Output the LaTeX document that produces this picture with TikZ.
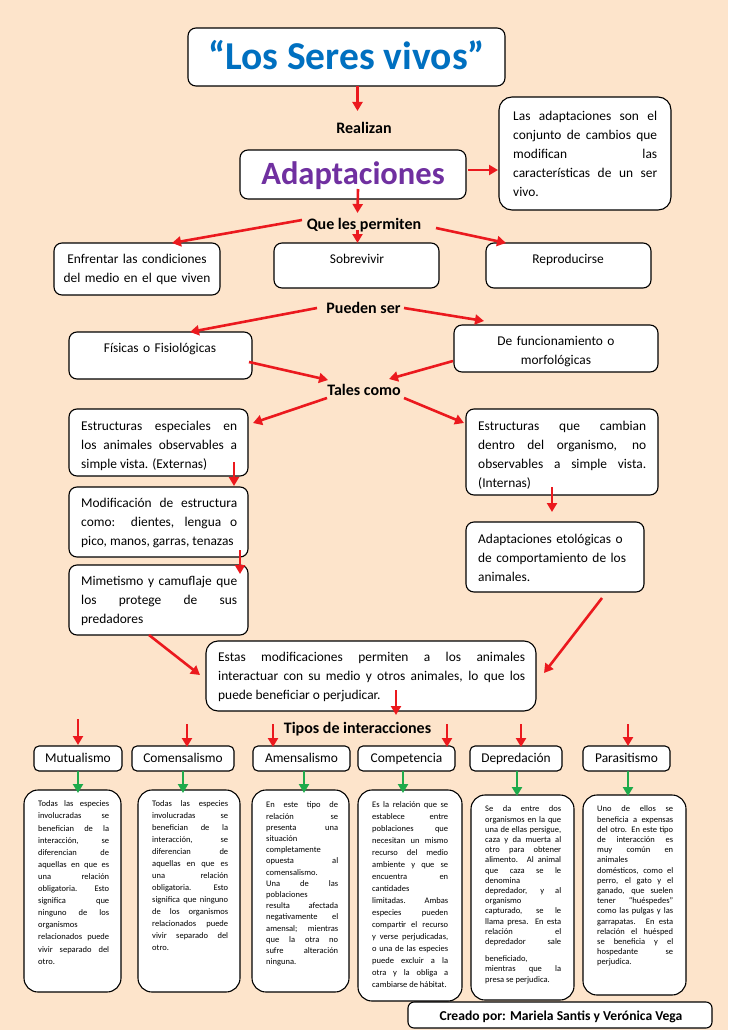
\documentclass[tikz,border=0pt]{standalone}
\usepackage{fontspec}
\setmainfont{Carlito}
\usetikzlibrary{fit,arrows.meta}
\definecolor{bgc}{RGB}{253,228,203}
\definecolor{arrred}{RGB}{235,25,30}
\definecolor{arrgreen}{RGB}{30,170,75}
\definecolor{tblue}{RGB}{0,112,192}
\definecolor{tpurple}{RGB}{112,48,160}
\setlength{\parindent}{0pt}
\tolerance=10000 \hyphenpenalty=10000 \exhyphenpenalty=10000 \hbadness=10000
\newcommand\fs[2]{\fontsize{#1}{#2}\selectfont}
\tikzset{
  bx/.style={draw=black, line width=1.1pt, fill=white, rounded corners=8pt, inner sep=0pt, outer sep=0pt},
  tb/.style={bx, rounded corners=5pt},
  db/.style={bx, rounded corners=14pt},
  lbl/.style={font=\bfseries\fs{16}{18}, inner sep=0pt, anchor=base},
  ttxt/.style={font=\fs{13.4}{16}, inner sep=0pt, anchor=base},
  ptxt/.style={inner sep=0pt, anchor=north west, align=justify, font=\fs{13.4}{19}},
  ctxt/.style={inner sep=0pt, anchor=north, align=center, text width=180pt, font=\fs{13.4}{19}},
  ra/.style={draw=arrred, line width=2.6pt, -{Triangle[length=9pt,width=10pt]}},
  ga/.style={draw=arrgreen, line width=2.6pt, -{Triangle[length=9pt,width=10pt]}},
}
\begin{document}
\begin{tikzpicture}[x=1pt,y=-1pt]
\useasboundingbox (0,0) rectangle (728,1030);
\fill[bgc] (0,0) rectangle (728,1030);

% ---------- boxes ----------
\node[bx, fit={(188,28) (505,86)}] (title) {};
\node[bx, fit={(240,150) (466,199)}] (adapt) {};
\node[bx, rounded corners=13pt, fit={(499,97) (671,210)}] (defbox) {};
\node[bx, fit={(54,243) (220,295)}] (enf) {};
\node[bx, fit={(274,243) (439,288)}] (sob) {};
\node[bx, fit={(486,243) (651,288)}] (rep) {};
\node[bx, fit={(69,332) (252,379)}] (fis) {};
\node[bx, fit={(454,325) (658,372)}] (func) {};
\node[bx, fit={(69,409) (248,476)}] (ext) {};
\node[bx, fit={(69,487) (248,557)}] (mod) {};
\node[bx, fit={(69,565) (248,635)}] (mim) {};
\node[bx, fit={(466,409) (658,495)}] (intl) {};
\node[bx, fit={(466,522) (644,592)}] (eto) {};
\node[bx, rounded corners=12pt, fit={(206,641) (536,711)}] (estas) {};

\node[tb, fit={(34,746) (122,771)}] (mut) {};
\node[tb, fit={(132,746) (234,771)}] (com) {};
\node[tb, fit={(253,746) (350,771)}] (ame) {};
\node[tb, fit={(358,746) (455,771)}] (cmp) {};
\node[tb, fit={(470,746) (562,771)}] (dep) {};
\node[tb, fit={(583,746) (670,771)}] (par) {};

\node[db, fit={(24,790) (121,992)}] (mutD) {};
\node[db, fit={(138,790) (240,992)}] (comD) {};
\node[db, fit={(252,790) (349,992)}] (ameD) {};
\node[db, fit={(358,790) (462,1001)}] (cmpD) {};
\node[db, fit={(471,795) (574,1000)}] (depD) {};
\node[db, fit={(583,795) (686,995)}] (parD) {};

\node[bx, rounded corners=6pt, fit={(408,1002) (712,1028)}] (creado) {};

% ---------- titles ----------
\node[inner sep=0pt, anchor=base, font=\bfseries\fs{39.5}{42}, text=tblue] (titleT) at (346.5,70) {“Los Seres vivos”};
\node[inner sep=0pt, anchor=base, font=\bfseries\fs{32.5}{35}, text=tpurple] (adaptT) at (353,184) {Adaptaciones};
\node[inner sep=0pt, anchor=base, font=\bfseries\fs{13.6}{16}] (creadoT) at (561,1020.5) {Creado por: Mariela Santis y Verónica Vega};

% ---------- type labels ----------
\node[ttxt] (mutL) at (78,762) {Mutualismo};
\node[ttxt] (comL) at (183,762) {Comensalismo};
\node[ttxt] (ameL) at (301.5,762) {Amensalismo};
\node[ttxt] (cmpL) at (406.5,762) {Competencia};
\node[ttxt] (depL) at (516,762) {Depredación};
\node[ttxt] (parL) at (626.5,762) {Parasitismo};

% ---------- labels ----------
\node[lbl] (realizan) at (364,133.5) {Realizan};
\node[lbl] (qlp) at (364,229) {Que les permiten};
\node[lbl] (pueden) at (363.5,313.5) {Pueden ser};
\node[lbl] (tales) at (364,395.5) {Tales como};
\node[lbl] (tipos) at (357.5,733.5) {Tipos de interacciones};

% ---------- texts in boxes ----------
\node[ptxt, text width=144pt] (defT) at (513,106.7) {\strut Las adaptaciones son el\linebreak conjunto de cambios que\linebreak modifican las\linebreak características de un ser\linebreak vivo.};
\node[ctxt] (enfT) at (137,249.7) {\strut Enfrentar las condiciones\\ del medio en el que viven};
\node[ctxt] (sobT) at (357,249.7) {\strut Sobrevivir};
\node[ctxt] (repT) at (568,249.7) {\strut Reproducirse};
\node[ctxt] (fisT) at (160,338.7) {\strut Físicas o Fisiológicas};
\node[ctxt] (funcT) at (556,331.7) {\strut De funcionamiento o\\ morfológicas};
\node[ptxt, text width=156pt] (extT) at (81,416.7) {\strut Estructuras especiales en\linebreak los animales observables a\linebreak simple vista. (Externas)};
\node[ptxt, text width=156pt] (modT) at (81,493.7) {\strut Modificación de estructura\linebreak como: dientes, lengua o\linebreak pico, manos, garras, tenazas};
\node[ptxt, text width=156pt] (mimT) at (81,571.7) {\strut Mimetismo y camuflaje que\linebreak los protege de sus\linebreak predadores};
\node[ptxt, text width=168pt] (intlT) at (478,416.7) {\strut Estructuras que cambian\linebreak dentro del organismo, no\linebreak observables a simple vista.\linebreak (Internas)};
\node[ptxt, text width=165pt, align=left] (etoT) at (478,529.7) {\strut Adaptaciones etológicas o\\ de comportamiento de los\\ animales.};
\node[ptxt, text width=307pt] (estasT) at (218,647.7) {\strut Estas modificaciones permiten a los animales\linebreak interactuar con su medio y otros animales, lo que los\linebreak puede beneficiar o perjudicar.};

% ---------- description texts ----------
\node[ptxt, text width=71pt, font=\fs{8.5}{12.1}] (mutT) at (38,798.2) {\strut Todas las especies\linebreak involucradas se\linebreak benefician de la\linebreak interacción, se\linebreak diferencian de\linebreak aquellas en que es\linebreak una relación\linebreak obligatoria. Esto\linebreak significa que\linebreak ninguno de los\linebreak organismos\linebreak relacionados puede\linebreak vivir separado del\linebreak otro.};
\node[ptxt, text width=76pt, font=\fs{8.5}{12}] (comT) at (152,798.3) {\strut Todas las especies\linebreak involucradas se\linebreak benefician de la\linebreak interacción, se\linebreak diferencian de\linebreak aquellas en que es\linebreak una relación\linebreak obligatoria. Esto\linebreak significa que ninguno\linebreak de los organismos\linebreak relacionados puede\linebreak vivir separado del\linebreak otro.};
\node[ptxt, text width=72pt, font=\fs{8.5}{11.2}] (ameT) at (266,799.9) {\strut En este tipo de\linebreak relación se\linebreak presenta una\linebreak situación\linebreak completamente\linebreak opuesta al\linebreak comensalismo.\linebreak Una de las\linebreak poblaciones\linebreak resulta afectada\linebreak negativamente el\linebreak amensal; mientras\linebreak que la otra no\linebreak sufre alteración\linebreak ninguna.};
\node[ptxt, text width=76pt, font=\fs{8.5}{12}] (cmpT) at (372,799.3) {\strut Es la relación que se\linebreak establece entre\linebreak poblaciones que\linebreak necesitan un mismo\linebreak recurso del medio\linebreak ambiente y que se\linebreak encuentra en\linebreak cantidades\linebreak limitadas. Ambas\linebreak especies pueden\linebreak compartir el recurso\linebreak y verse perjudicadas,\linebreak o una de las especies\linebreak puede excluir a la\linebreak otra y la obliga a\linebreak cambiarse de hábitat.};
\node[ptxt, text width=76pt, font=\fs{8.5}{10.2}] (depT) at (485,804.6) {\strut Se da entre dos\linebreak organismos en la que\linebreak una de ellas persigue,\linebreak caza y da muerta al\linebreak otro para obtener\linebreak alimento. Al animal\linebreak que caza se le\linebreak denomina\linebreak depredador, y al\linebreak organismo\linebreak capturado, se le\linebreak llama presa. En esta\linebreak relación el\linebreak depredador sale\vspace{7pt}\linebreak beneficiado,\linebreak mientras que la\linebreak presa se perjudica.};
\node[ptxt, text width=76pt, font=\fs{8.5}{10.2}] (parT) at (597,804.6) {\strut Uno de ellos se\linebreak beneficia a expensas\linebreak del otro. En este tipo\linebreak de interacción es\linebreak muy común en\linebreak animales\linebreak domésticos, como el\linebreak perro, el gato y el\linebreak ganado, que suelen\linebreak tener “huéspedes”\linebreak como las pulgas y las\linebreak garrapatas. En esta\linebreak relación el huésped\linebreak se beneficia y el\linebreak hospedante se\linebreak perjudica.};

% ---------- free arrow ends ----------
\coordinate (c1) at (357.5,111);
\coordinate (c3) at (357.5,213);
\coordinate (q1) at (302,220);
\coordinate (q2) at (357.5,230);
\coordinate (q3) at (436,228);
\coordinate (p1) at (317,308);
\coordinate (p2) at (404,308);
\coordinate (t1) at (328,380);
\coordinate (t2) at (389,379);
\coordinate (t3) at (327,398);
\coordinate (t4) at (404,398);
\coordinate (i0) at (396,715);
\coordinate (r1) at (78,719);
\coordinate (r2) at (187,724);
\coordinate (r3) at (273,724);
\coordinate (r4) at (447,724);
\coordinate (r5) at (521,724);
\coordinate (r6) at (628,724);

% ---------- red arrows ----------
\draw[ra] ([xshift=11pt]title.south) -- (c1);
\draw[ra] ([xshift=2pt,yshift=4.5pt]adapt.east) -- ([xshift=-1pt,yshift=-16.5pt]defbox.west);
\draw[ra] ([xshift=5pt,yshift=10pt]adapt.south) -- (c3);
\draw[ra] (q1) -- ([xshift=35pt]enf.north);
\draw[ra] (q2) -- ([xshift=1pt]sob.north);
\draw[ra] (q3) -- ([xshift=-62.5pt]rep.north);
\draw[ra] (p1) -- ([xshift=29.5pt]fis.north);
\draw[ra] (p2) -- ([xshift=-72pt,yshift=4pt]func.north);
\draw[ra] ([xshift=-3pt,yshift=-6.5pt]fis.east) -- (t1);
\draw[ra] ([xshift=-1pt,yshift=-12.5pt]func.west) -- (t2);
\draw[ra] (t3) -- ([xshift=5pt,yshift=-14pt]ext.north east);
\draw[ra] (t4) -- ([xshift=-2pt,yshift=-14pt]intl.north west);
\draw[ra] ([xshift=-14pt,yshift=14pt]ext.south east) -- ([xshift=-14pt,yshift=1pt]mod.north east);
\draw[ra] ([xshift=-8pt,yshift=7pt]mod.south east) -- ([xshift=-8pt,yshift=-9pt]mim.north east);
\draw[ra] ([xshift=-10pt,yshift=8pt]intl.south) -- ([xshift=-3pt,yshift=10pt]eto.north);
\draw[ra] ([xshift=-9.5pt]mim.south) -- ([xshift=-6pt,yshift=-34pt]estas.north west);
\draw[ra] ([xshift=47pt,yshift=-6pt]eto.south) -- ([xshift=8pt,yshift=-32pt]estas.north east);
\draw[ra] ([xshift=25pt,yshift=21pt]estas.south) -- (i0);
\draw[ra] (r1) -- ([yshift=1pt]mut.north);
\draw[ra] (r2) -- ([xshift=4pt,yshift=-1pt]com.north);
\draw[ra] (r3) -- ([xshift=-28.5pt,yshift=-1pt]ame.north);
\draw[ra] (r4) -- ([xshift=40.5pt,yshift=-1pt]cmp.north);
\draw[ra] (r5) -- ([xshift=5pt,yshift=-1pt]dep.north);
\draw[ra] (r6) -- ([xshift=1.5pt]par.north);

% ---------- green arrows ----------
\draw[ga] (mut.south) -- ([xshift=5.5pt,yshift=-3pt]mutD.north);
\draw[ga] (com.south) -- ([xshift=-6pt,yshift=-3pt]comD.north);
\draw[ga] ([xshift=2.5pt]ame.south) -- ([xshift=3.5pt,yshift=-3pt]ameD.north);
\draw[ga] ([xshift=-3.5pt]cmp.south) -- ([xshift=-7pt,yshift=-3pt]cmpD.north);
\draw[ga] ([xshift=1pt]dep.south) -- ([xshift=-5.5pt,yshift=-1pt]depD.north);
\draw[ga] ([xshift=1.5pt]par.south) -- ([xshift=-6.5pt,yshift=-1pt]parD.north);
\end{tikzpicture}
\end{document}
